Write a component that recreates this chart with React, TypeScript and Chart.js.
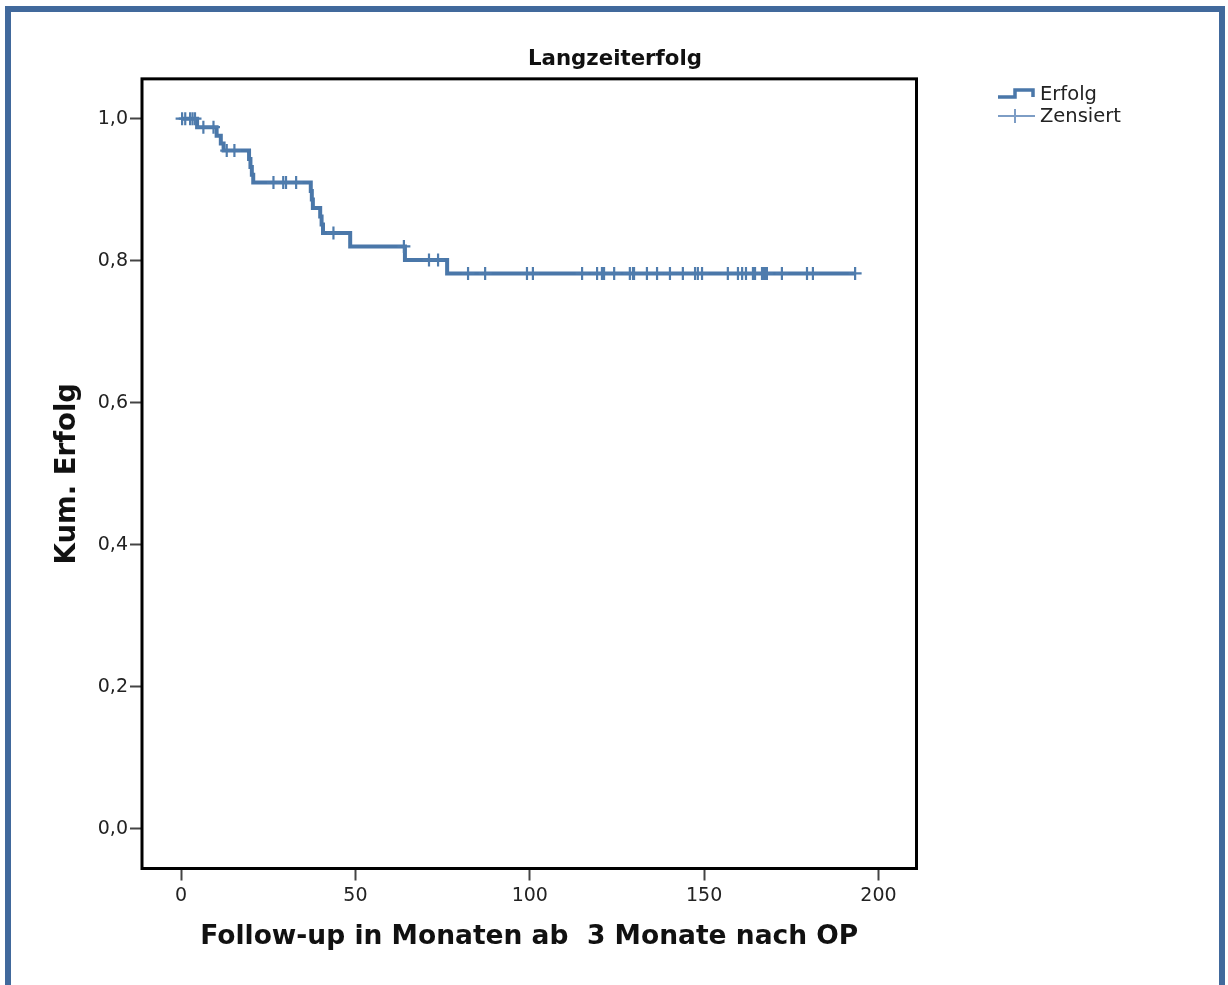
import React, { useEffect, useRef } from 'react';
import { Chart, registerables } from 'chart.js';

Chart.register(...registerables);

// Kaplan-Meier steps (time in months, cumulative success after the event)
const eventTimes = [0, 4.6, 10.2, 11.4, 12.2, 19.5, 19.9, 20.3, 20.7, 37.2, 37.5, 37.8, 39.9, 40.3, 40.7, 48.5, 64.2, 76.3, 193.3];
const survival = [1.0, 0.988, 0.976, 0.965, 0.955, 0.943, 0.932, 0.921, 0.910, 0.898, 0.886, 0.874, 0.862, 0.851, 0.839, 0.820, 0.801, 0.782, 0.782];

// censored observations (time in months)
const censorTimes = [
  0.3, 1.2, 2.6, 3.3, 4.0, 6.4, 9.3, 13.1, 15.3, 26.5, 29.3, 30.1, 33.0, 43.7, 63.9, 71.1, 73.7,
  82.3, 87.2, 99.2, 100.9, 115.0, 119.3, 120.7, 121.3, 124.2, 128.7, 129.6, 129.9, 133.6, 136.5,
  140.2, 143.9, 147.4, 148.2, 149.4, 156.8, 159.7, 160.9, 162.0, 164.0, 164.6, 166.6, 167.2,
  167.7, 168.0, 172.3, 179.5, 181.2, 193.3,
];

const xTicks = [0, 50, 100, 150, 200];
const xTickLabels = ['0', '50', '100', '150', '200'];
const yTicks = [0, 0.2, 0.4, 0.6, 0.8, 1.0];
const yTickLabels = ['0,0', '0,2', '0,4', '0,6', '0,8', '1,0'];

const titleText = 'Langzeiterfolg';
const xTitle = 'Follow-up in Monaten ab  3 Monate nach OP';
const yTitle = 'Kum. Erfolg';
const legendLabels = ['Erfolg', 'Zensiert'];

const LINE_COLOR = '#4a77a9';
const CENSOR_COLOR = '#4f7cad';
const FRAME_COLOR = '#41699c';
const FONT = '"DejaVu Sans", sans-serif';

const CW = 1208;
const CH = 973;

function survAt(t: number): number {
  let s = survival[0];
  for (let i = 0; i < eventTimes.length; i++) {
    if (eventTimes[i] <= t) s = survival[i];
  }
  return s;
}

const framePlugin = {
  id: 'frameBox',
  afterDatasetsDraw(chart: any) {
    const { ctx, chartArea: a } = chart;
    ctx.save();
    ctx.strokeStyle = '#000';
    ctx.lineWidth = 3;
    ctx.strokeRect(a.left, a.top, a.right - a.left, a.bottom - a.top);
    ctx.restore();
  },
};

const legendPlugin = {
  id: 'kmLegend',
  afterDraw(chart: any) {
    const { ctx } = chart;
    ctx.save();
    // Erfolg symbol (step)
    ctx.strokeStyle = LINE_COLOR;
    ctx.lineWidth = 3.5;
    ctx.beginPath();
    ctx.moveTo(987, 85);
    ctx.lineTo(1004, 85);
    ctx.lineTo(1004, 78);
    ctx.lineTo(1022, 78);
    ctx.lineTo(1022, 85);
    ctx.stroke();
    // Zensiert symbol
    ctx.strokeStyle = '#7d9dc5';
    ctx.lineWidth = 2;
    ctx.beginPath();
    ctx.moveTo(987, 104);
    ctx.lineTo(1024, 104);
    ctx.moveTo(1004, 97);
    ctx.lineTo(1004, 111);
    ctx.stroke();
    ctx.fillStyle = '#222';
    ctx.font = `19.5px ${FONT}`;
    ctx.textBaseline = 'middle';
    ctx.textAlign = 'left';
    ctx.fillText(legendLabels[0], 1029, 83);
    ctx.fillText(legendLabels[1], 1029, 104.5);
    ctx.restore();
  },
};

export default function App() {
  const ref = useRef<HTMLCanvasElement | null>(null);

  useEffect(() => {
    if (!ref.current) return;
    const lineData = eventTimes.map((t, i) => ({ x: t, y: survival[i] }));
    const censorData = censorTimes.map((t) => ({ x: t, y: survAt(t) }));

    const chart = new Chart(ref.current, {
      type: 'line',
      data: {
        datasets: [
          {
            label: legendLabels[0],
            data: lineData,
            stepped: true,
            borderColor: LINE_COLOR,
            borderWidth: 4,
            pointRadius: 0,
            fill: false,
            order: 2,
          },
          {
            label: legendLabels[1],
            data: censorData,
            showLine: false,
            pointStyle: 'cross',
            pointRadius: 6.5,
            pointBorderColor: CENSOR_COLOR,
            pointBorderWidth: 2.2,
            pointBackgroundColor: CENSOR_COLOR,
            order: 1,
          } as any,
        ],
      },
      options: {
        responsive: false,
        animation: false,
        layout: { padding: 0 },
        plugins: {
          legend: { display: false },
          tooltip: { enabled: false },
          title: {
            display: true,
            text: titleText,
            color: '#111',
            font: { family: FONT, size: 21.3, weight: 'bold' },
            padding: { top: 34.4, bottom: 6.9 },
          },
        },
        scales: {
          x: {
            type: 'linear',
            min: -11.2,
            max: 210.9,
            afterBuildTicks: (s: any) => {
              s.ticks = xTicks.map((v) => ({ value: v }));
            },
            afterFit: (s: any) => {
              s.height = CH - 856.5;
            },
            ticks: {
              color: '#222',
              font: { family: FONT, size: 19 },
              padding: 4,
              maxRotation: 0,
              autoSkip: false,
              callback: (v: any) => xTickLabels[xTicks.indexOf(Number(v))] ?? '',
            },
            grid: {
              display: true,
              drawOnChartArea: false,
              drawTicks: true,
              tickLength: 12,
              tickColor: '#444',
              tickWidth: 2,
            },
            border: { display: false },
            title: {
              display: true,
              text: xTitle,
              color: '#111',
              font: { family: FONT, size: 26.5, weight: 'bold' },
              padding: { top: 0, bottom: 32.2 },
            },
          },
          y: {
            type: 'linear',
            position: 'left',
            min: -0.056,
            max: 1.056,
            afterBuildTicks: (s: any) => {
              s.ticks = yTicks.map((v) => ({ value: v }));
            },
            afterFit: (s: any) => {
              s.width = 131;
            },
            ticks: {
              color: '#222',
              font: { family: FONT, size: 19 },
              padding: 2,
              autoSkip: false,
              callback: (v: any) => {
                const i = yTicks.findIndex((t) => Math.abs(t - Number(v)) < 1e-9);
                return i >= 0 ? yTickLabels[i] : '';
              },
            },
            grid: {
              display: true,
              drawOnChartArea: false,
              drawTicks: true,
              tickLength: 12,
              tickColor: '#444',
              tickWidth: 2,
            },
            border: { display: false },
            title: {
              display: true,
              text: yTitle,
              color: '#111',
              font: { family: FONT, size: 27.5, weight: 'bold' },
              padding: { top: 40.5, bottom: 0 },
            },
          },
          yR: {
            type: 'linear',
            position: 'right',
            display: true,
            grid: { display: false },
            ticks: { display: false },
            border: { display: false },
            afterFit: (s: any) => {
              s.width = CW - 905.5;
            },
          },
        },
      } as any,
      plugins: [framePlugin, legendPlugin],
    });
    return () => chart.destroy();
  }, []);

  return (
    <div
      style={{
        position: 'absolute',
        left: 5,
        top: 6,
        width: 1220,
        height: 979,
        boxSizing: 'border-box',
        borderTop: `6px solid ${FRAME_COLOR}`,
        borderLeft: `6px solid ${FRAME_COLOR}`,
        borderRight: `6px solid ${FRAME_COLOR}`,
        borderBottom: 'none',
        background: '#fff',
        overflow: 'hidden',
      }}
    >
      <canvas ref={ref} width={CW} height={CH} style={{ display: 'block' }} />
    </div>
  );
}
